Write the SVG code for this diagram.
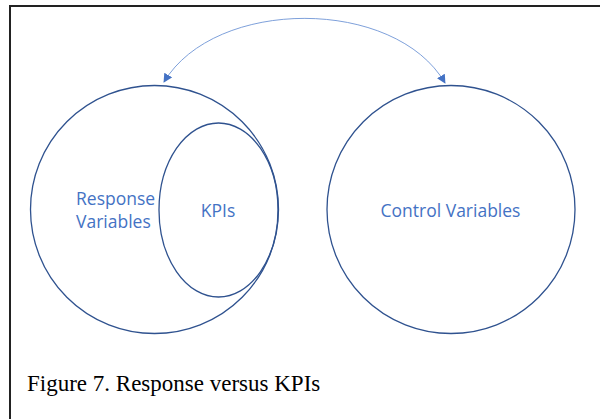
<svg xmlns="http://www.w3.org/2000/svg" width="600" height="419" viewBox="0 0 600 419">
<defs>
<style>
.node{fill:none;stroke:#2F528F;stroke-width:1.3}
.lbl{font-family:"Open Sans","Liberation Sans",sans-serif;font-size:17.5px;fill:#4472C4}
.conn{fill:none;stroke:#6F95D6;stroke-width:0.9}
.cap{font-family:"Liberation Serif","Times New Roman",serif;font-size:23px;fill:#000}
</style>
<marker id="ah" viewBox="0 0 10 10" refX="9" refY="5" markerWidth="9" markerHeight="9" markerUnits="userSpaceOnUse" orient="auto-start-reverse">
<path d="M0,0 L10,5 L0,10 z" fill="#4472C4"/>
</marker>
</defs>
<rect width="600" height="419" fill="#fff"/>
<path d="M10,419 V6 H600" fill="none" stroke="#222" stroke-width="2"/>
<g id="response">
<circle class="node" cx="154.5" cy="209.5" r="124"/>
<text class="lbl" x="76" y="205">Response</text>
<text class="lbl" x="76" y="228">Variables</text>
</g>
<g id="kpis">
<ellipse class="node" cx="218.5" cy="210" rx="59.5" ry="87"/>
<text class="lbl" x="218" y="217" text-anchor="middle">KPIs</text>
</g>
<g id="control">
<circle class="node" cx="451" cy="209.5" r="124"/>
<text class="lbl" x="450.5" y="217" text-anchor="middle">Control Variables</text>
</g>
<g id="connectors">
<path class="conn" d="M164,82 C215,-3 395,-3 445,83" marker-start="url(#ah)" marker-end="url(#ah)"/>
</g>
<text class="cap" x="27" y="391">Figure 7. Response versus KPIs</text>
</svg>
